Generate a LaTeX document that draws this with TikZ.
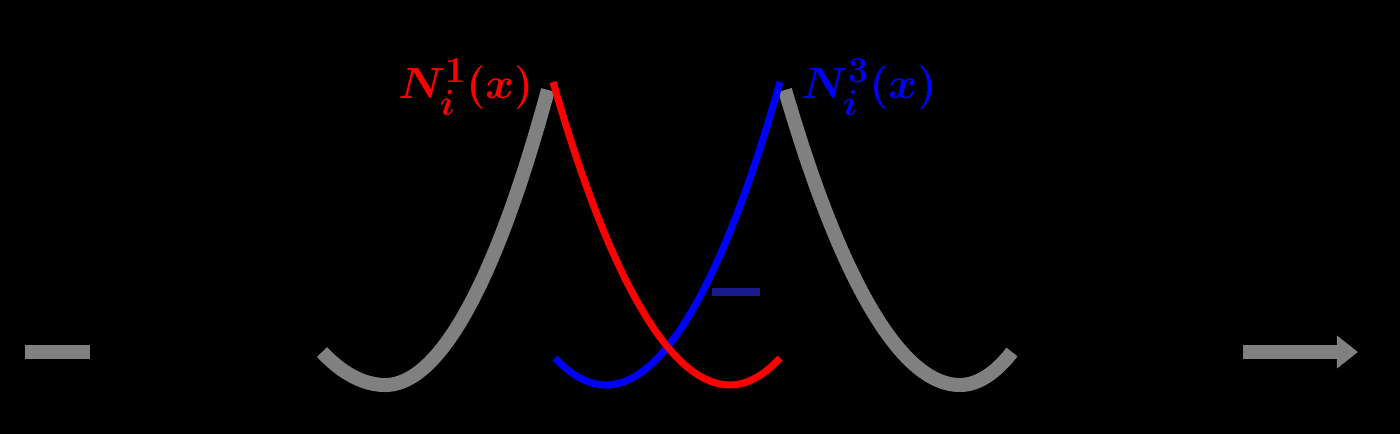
\documentclass[tikz,border=0pt]{standalone}
\usepackage{amsmath}
\usepackage{amssymb}
\usepackage{tikz}
\usepackage{xcolor}
\usetikzlibrary{arrows.meta,positioning}

\definecolor{navyline}{RGB}{25,25,140}

\begin{document}
\begin{tikzpicture}[x=0.02cm, y=-0.02cm,
  grayline/.style={draw=gray, line width=8pt},
  basisline/.style={line width=4pt},
  labeltext/.style={inner sep=0pt, font=\fontsize{24.88}{30}\selectfont\boldmath}]
\useasboundingbox[fill=black] (0,0) rectangle (1400,434);

\coordinate (pR) at (553,82);
\coordinate (pB) at (780,82);

% gray neighbours
\draw[grayline] (25,352) -- (90,352);
\draw[grayline] (322,352) parabola bend (385,385) (548,90);
\draw[grayline] (785,90) parabola bend (960,385) (1012,352);
\draw[grayline, -{Triangle[length=12pt, width=18pt]}] (1243,352) -- (1358,352);

% the two basis functions
\draw[basisline, blue] (555,358) parabola bend (606,385) (pB);
\draw[basisline, red] (pR) parabola bend (730,385) (780,358);
\draw[basisline, navyline] (712,292) -- (760,292);

\node[labeltext, red, left=11pt of pR, yshift=-3pt] (lblR) {$N_i^1(x)$};
\node[labeltext, blue, right=12pt of pB, yshift=-3pt] (lblB) {$N_i^3(x)$};
\end{tikzpicture}
\end{document}
